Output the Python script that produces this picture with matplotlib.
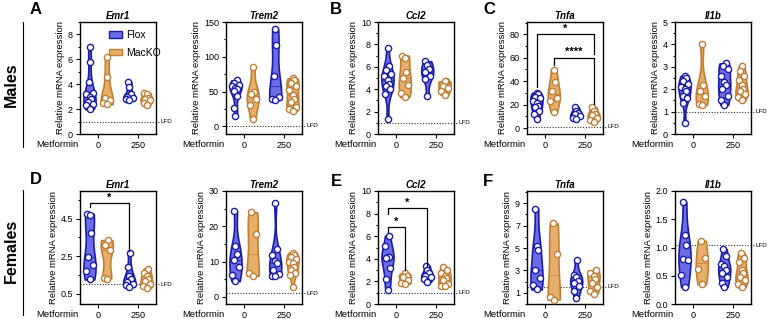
import numpy as np
import matplotlib.pyplot as plt
from matplotlib.patches import Patch
from matplotlib.ticker import MultipleLocator, FormatStrFormatter

plt.rcParams['font.family'] = ['Liberation Sans', 'DejaVu Sans']

groups = ['Flox', 'MacKO']
dose_labels = ['0', '250']

# values per group: Flox 0, MacKO 0, Flox 250, MacKO 250
# males
m_emr1 = [[7.0, 5.8, 4.2, 3.3, 3.2, 3.0, 2.8, 2.6, 2.4, 2.3, 2.0],
          [6.2, 4.6, 2.9, 2.7, 2.5, 2.4],
          [4.2, 3.8, 3.2, 3.0, 2.9, 2.8, 2.7],
          [3.3, 3.2, 2.9, 2.8, 2.7, 2.5, 2.3]]
m_trem2 = [[66, 63, 60, 58, 55, 53, 51, 43, 26, 15],
           [86, 50, 46, 40, 30, 10],
           [140, 117, 73, 42, 40, 38],
           [69, 67, 63, 58, 52, 45, 40, 35, 28, 25, 22]]
m_ccl2 = [[7.7, 6.1, 5.7, 5.4, 5.2, 4.8, 4.5, 4.3, 4.0, 3.6, 1.3],
          [7.0, 6.8, 5.5, 5.0, 4.4, 3.7, 3.3],
          [6.5, 6.2, 5.8, 5.5, 5.2, 4.9, 3.4],
          [4.7, 4.7, 4.3, 4.1, 3.8, 3.5]]
m_tnfa = [[30.3, 29, 26.9, 25.8, 23.5, 21.3, 19.2, 17.8, 15, 12.2, 8],
          [49.5, 39, 32, 26, 23.5, 13.5],
          [18, 15, 13, 12, 10, 9, 8],
          [18, 15, 12, 11, 9, 7, 5.5]]
m_il1b = [[2.6, 2.5, 2.35, 2.25, 2.1, 2.0, 1.9, 1.7, 1.6, 1.4, 0.5],
          [4.0, 2.2, 1.9, 1.7, 1.35, 1.3],
          [3.15, 3.05, 2.9, 2.6, 2.3, 2.2, 2.0, 1.7, 1.5, 1.3],
          [3.05, 2.8, 2.6, 2.4, 2.2, 2.0, 1.9, 1.8, 1.65, 1.5]]

# females
f_emr1 = [[4.75, 4.7, 3.75, 2.45, 2.0, 1.7, 1.25],
          [3.35, 3.1, 2.8, 1.35, 1.3],
          [2.65, 1.9, 1.45, 1.3, 1.1, 1.0, 0.95, 0.85],
          [1.83, 1.6, 1.45, 1.3, 1.15, 1.0, 0.9, 0.8]]
f_trem2 = [[24.3, 14.5, 12.3, 10.4, 8.6, 6.1, 4.5],
           [24.0, 17.8, 6.7, 6.0],
           [26.7, 13.5, 11.8, 10.2, 9.5, 7.5, 6.5, 6.0, 5.9],
           [12.5, 12.0, 11.3, 10.8, 10.0, 9.5, 8.5, 7.5, 6.8, 6.2, 2.8]]
f_ccl2 = [[6.05, 5.1, 4.2, 4.15, 4.1, 3.2, 2.25, 1.2],
          [2.7, 2.5, 2.4, 2.1, 1.9, 1.8],
          [3.4, 3.0, 2.7, 2.5, 2.4, 2.2, 1.95],
          [3.25, 3.0, 2.7, 2.5, 2.3, 2.1, 1.8, 1.6, 1.55]]
f_tnfa = [[8.5, 5.2, 4.8, 3.0, 2.3, 1.7, 1.3],
          [7.2, 4.5, 0.6, 0.4],
          [3.9, 2.6, 2.4, 2.1, 1.9, 1.6, 1.2, 0.5],
          [3.0, 2.8, 2.5, 2.2, 1.9, 1.5, 1.2, 0.9]]
f_il1b = [[1.8, 1.22, 1.05, 0.8, 0.78, 0.52, 0.3],
          [1.12, 0.82, 0.62, 0.35],
          [0.97, 0.85, 0.7, 0.68, 0.6, 0.55, 0.47, 0.38, 0.3],
          [0.9, 0.82, 0.75, 0.6, 0.55, 0.48, 0.42, 0.35, 0.3]]

# LFD reference level per panel
m_lfd = [1.0, 1.0, 1.0, 1.0, 1.0]
f_lfd = [1.0, 1.0, 1.0, 1.55, 1.04]

flox_face, flox_edge = '#6c6ce6', '#1c1ca8'
ko_face, ko_edge = '#e6ae68', '#c07e36'
faces = [flox_face, ko_face, flox_face, ko_face]
edges = [flox_edge, ko_edge, flox_edge, ko_edge]
xpos = [0, 1, 2.3, 3.3]


def violin(ax, x, vals, face, edge, width=0.7):
    vals = np.asarray(vals, float)
    grid = np.linspace(vals.min(), vals.max(), 120)
    bw = 0.8 * vals.std(ddof=1) * len(vals) ** (-0.2)
    dens = np.exp(-0.5 * ((grid[:, None] - vals[None, :]) / bw) ** 2).sum(1)
    half = dens / dens.max() * width / 2
    ax.fill_betweenx(grid, x - half, x + half, facecolor=face,
                     edgecolor=edge, lw=1.2, zorder=2)
    med = np.median(vals)
    hm = np.interp(med, grid, half)
    ax.plot([x - hm, x + hm], [med, med], color=edge, lw=0.5, zorder=2)
    order = np.argsort(vals)
    pattern = [0, -0.6, 0.6, -0.3, 0.3]
    offs = np.zeros(len(vals))
    for k, i in enumerate(order):
        offs[i] = pattern[k % 5] * max(np.interp(vals[i], grid, half), 0.12)
    ax.scatter(x + offs, vals, s=20, facecolor='white', edgecolor=edge,
               lw=1.0, zorder=3)


def bracket(ax, x1, x2, y, e1, e2, txt):
    ax.plot([x1, x1, x2, x2], [e1, y, y, e2], color='black', lw=0.9,
            zorder=4)
    ax.annotate(txt, ((x1 + x2) / 2, y), xytext=(0, 0.5),
                textcoords='offset points', ha='center', va='bottom',
                fontsize=8, fontweight='bold')


fig = plt.figure(figsize=(7.67, 3.19), dpi=100)

lefts = [80, 226, 378, 527, 675]
titles = ['Emr1', 'Trem2', 'Ccl2', 'Tnfa', 'Il1b']
rows = [
    dict(top=22, bot=134, data=[m_emr1, m_trem2, m_ccl2, m_tnfa, m_il1b],
         lfd=m_lfd,
         ylim=[(0, 9), (-11, 150), (0, 10), (-5, 90.5), (0, 5)],
         major=[2, 50, 2, 20, 1], minor=[1, 25, 1, 10, 0.5],
         fmt=['%g'] * 5,
         br=[[], [], [], [(0, 3.3, 80, 35, 63, '*'),
                          (1, 3.3, 60, 54, 21, '****')], []]),
    dict(top=191, bot=304, data=[f_emr1, f_trem2, f_ccl2, f_tnfa, f_il1b],
         lfd=f_lfd,
         ylim=[(-0.06, 5.97), (-2, 30), (0, 10), (0, 10.1), (0, 2.0)],
         major=[2, 10, 2, 2, 0.5], minor=[1, 5, 1, 1, None],
         fmt=['%.1f', '%g', '%g', '%g', '%.1f'],
         br=[[(0, 2.3, 5.32, 5.1, 2.75, '*')], [],
             [(0, 2.3, 8.47, 8.0, 3.4, '*'), (0, 1, 6.8, 6.35, 3.0, '*')],
             [], []]),
]

for r, row in enumerate(rows):
    for c in range(5):
        ax = fig.add_axes([lefts[c] / 767, 1 - row['bot'] / 319,
                           76 / 767, (row['bot'] - row['top']) / 319])
        data = row['data'][c]
        for x, vals, fc, ec in zip(xpos, data, faces, edges):
            violin(ax, x, vals, fc, ec)
        ax.set_xlim(-0.55, 3.85)
        first = 0.5 if (r == 1 and c == 0) else 0
        if r == 1 and c == 3:
            first = 1
        ax.set_yticks(np.arange(first, row['ylim'][c][1] + 1e-6,
                                row['major'][c]))
        if row['minor'][c]:
            ax.yaxis.set_minor_locator(MultipleLocator(row['minor'][c]))
            if r == 1 and c == 0:
                ax.set_yticks(np.arange(1.5, 6, 2), minor=True)
        ax.yaxis.set_major_formatter(FormatStrFormatter(row['fmt'][c]))
        ax.set_ylim(*row['ylim'][c])
        ax.set_xticks([0.5, 2.8])
        ax.set_xticklabels(dose_labels)
        ax.tick_params(labelsize=6.5, length=3, width=0.8, pad=2)
        ax.tick_params(which='minor', length=1.8, width=0.8)
        for s in ax.spines.values():
            s.set_linewidth(1.0)
        ax.set_title(titles[c], fontsize=7, fontweight='bold',
                     fontstyle='italic', pad=2)
        ax.set_ylabel('Relative mRNA expression', fontsize=6.8, labelpad=2)
        ax.text(-0.02, -0.09, 'Metformin', fontsize=6.8, ha='right',
                va='center', transform=ax.transAxes)
        lfd = row['lfd'][c]
        ax.plot([0, 1.04], [lfd, lfd], transform=ax.get_yaxis_transform(),
                color='#333333', lw=0.8, ls=(0, (1, 1.5)), clip_on=False,
                zorder=1)
        ax.text(1.06, lfd, 'LFD', fontsize=4.5, va='center',
                transform=ax.get_yaxis_transform())
        for b in row['br'][c]:
            bracket(ax, *b)
        if r == 0 and c == 0:
            ax.legend(handles=[Patch(facecolor=flox_face, edgecolor=flox_edge,
                                     lw=1),
                               Patch(facecolor=ko_face, edgecolor=ko_edge,
                                     lw=1)],
                      labels=groups, loc='upper left',
                      bbox_to_anchor=(0.27, 1.0), frameon=False,
                      fontsize=7.5, handlelength=1.3, handleheight=0.6,
                      handletextpad=0.4, labelspacing=0.7, borderpad=0.3)

# panel letters
for letter, x, y in [('A', 36, 10), ('B', 336, 10), ('C', 489, 10),
                     ('D', 36, 180), ('E', 336, 181), ('F', 488, 181)]:
    fig.text(x / 767, 1 - y / 319, letter, fontsize=12, fontweight='bold',
             ha='center', va='center')

# sex labels with side rules
for label, yc, y0, y1 in [('Males', 85, 22, 147), ('Females', 251, 190, 315)]:
    fig.text(11 / 767, 1 - yc / 319, label, fontsize=11.5, fontweight='bold',
             rotation=90, ha='center', va='center')
    fig.add_artist(plt.Line2D([23 / 767, 23 / 767], [1 - y0 / 319, 1 - y1 / 319],
                              color='black', lw=0.8))

fig.savefig('out.png', dpi=100)
